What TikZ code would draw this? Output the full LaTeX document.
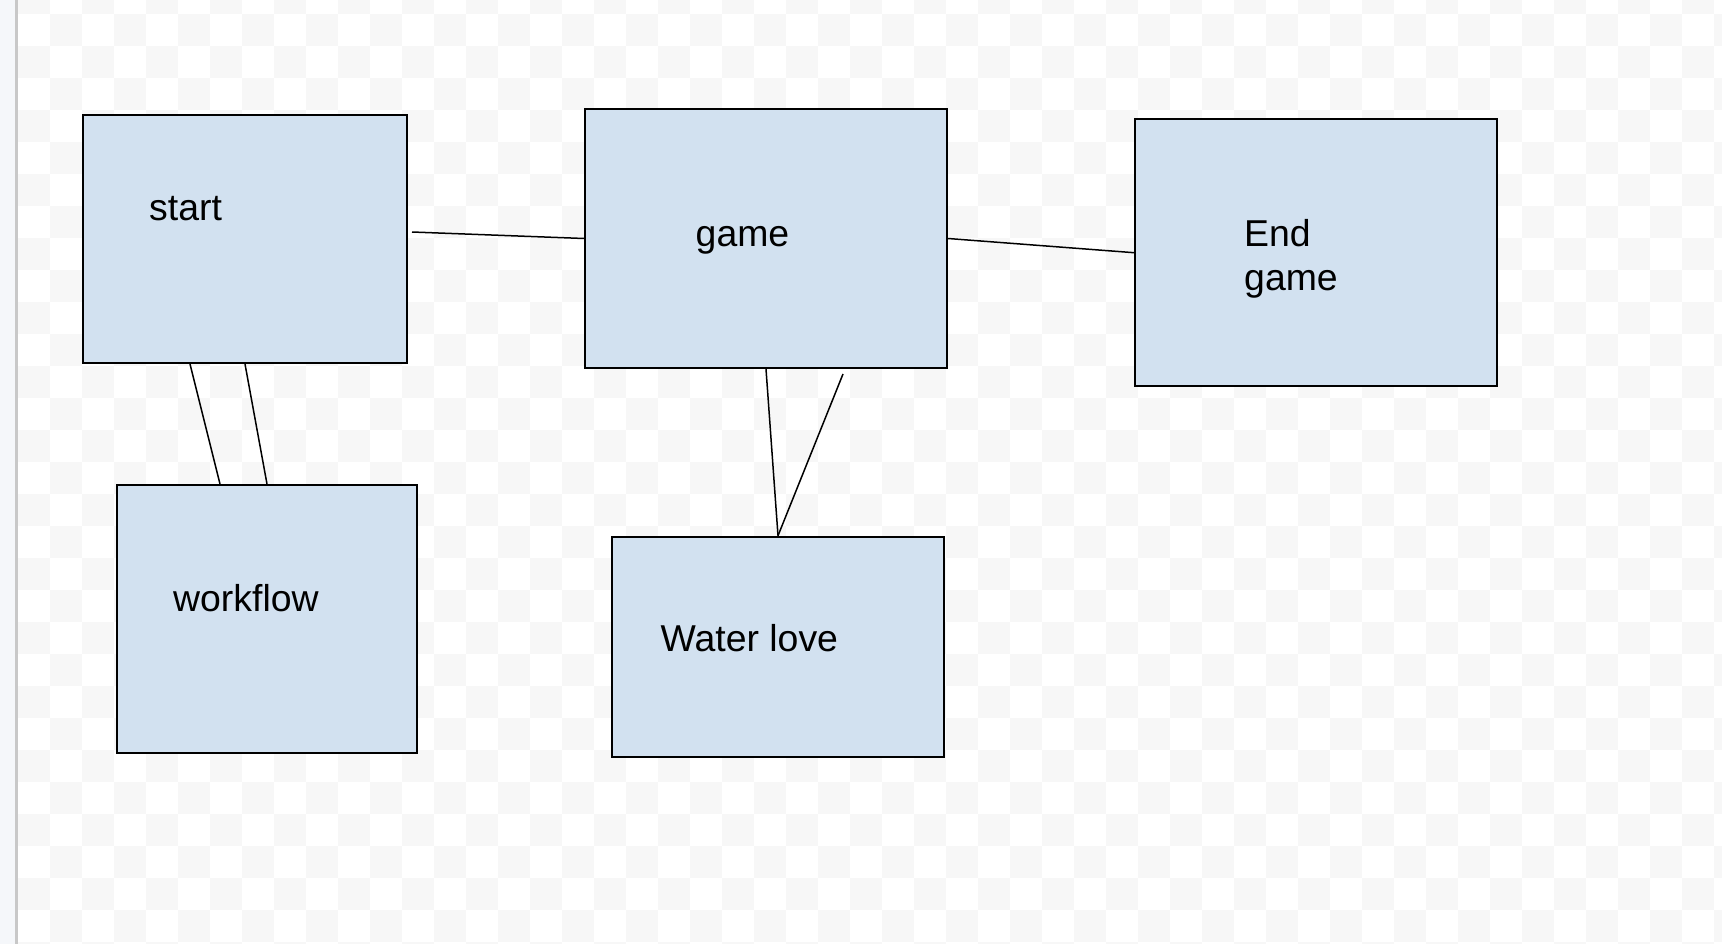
\documentclass[tikz,border=0pt]{standalone}
\usepackage{fontspec}
\setmainfont{Liberation Sans}
\usepackage{xcolor}
\usepackage{tikz}
\usetikzlibrary{calc}
\definecolor{boxblue}{HTML}{D2E1F0}
\definecolor{checkgray}{HTML}{F7F7F7}
\definecolor{sidegray}{HTML}{F5F7FA}
\definecolor{edgegray}{HTML}{C8C8C8}
\tikzset{
  box/.style={draw=black, line width=2pt, fill=boxblue, inner sep=0pt},
  lbl/.style={anchor=base west, inner sep=0pt, font=\fontsize{37.4pt}{43.6pt}\selectfont},
  link/.style={line width=1.5pt}
}
\begin{document}
\begin{tikzpicture}[x=1pt, y=-1pt]
      \useasboundingbox (0,0) rectangle (1722,944);
        % checker background
      \begin{scope}
        \clip (0,0) rectangle (1722,944);
        \fill[white] (0,0) rectangle (1722,944);
        \foreach \i in {0,...,53} {
          \foreach \j in {-1,...,29} {
            \pgfmathtruncatemacro{\cellsum}{\i+\j}
            \ifodd\cellsum \fill[checkgray] (18+32*\i,14+32*\j) rectangle ++(32,32); \fi
          }
        }
        \fill[sidegray] (0,0) rectangle (15.3,944);
        \fill[edgegray] (15.3,0) rectangle (17.5,944);
      \end{scope}
        % boxes
      \node[box, minimum width=324pt, minimum height=248pt] (start) at (245,239) {};
      \node[box, minimum width=362pt, minimum height=259pt] (game) at (766,238.5) {};
      \node[box, minimum width=362pt, minimum height=267.5pt] (endgame) at (1316,252.7) {};
      \node[box, minimum width=300pt, minimum height=268pt] (workflow) at (267,619) {};
      \node[box, minimum width=332pt, minimum height=220pt] (water) at (778,646.7) {};
        % labels
      \node[lbl] (startlbl) at (149,220.7) {start};
      \node[lbl] (gamelbl) at (695.5,247) {game};
      \node[lbl, anchor=north west, align=left] (endlbl) at (1244,219.2) {End\\game};
      \node[lbl] (workflowlbl) at (173,611.7) {workflow};
      \node[lbl] (waterlbl) at (660.5,651.7) {Water love};
        % links
      \coordinate (startR) at (412,232);
      \coordinate (gameB) at (843,374);
      \draw[link] (startR) -- (game.west);
      \draw[link] (game.east) -- (endgame.west);
      \draw[link] ($(start.south)+(-55,0)$) -- ($(workflow.north)+(-47,0)$);
      \draw[link] (start.south) -- (workflow.north);
      \draw[link] (game.south) -- (water.north);
      \draw[link] (gameB) -- (water.north);
\end{tikzpicture}
\end{document}
